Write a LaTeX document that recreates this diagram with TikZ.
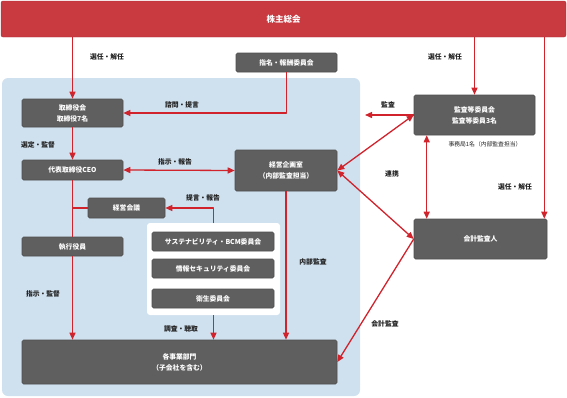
\documentclass[tikz,border=0pt]{standalone}
\usepackage{fontspec}
\setmainfont{Noto Sans CJK JP}
\usepackage{xcolor}
\usepackage{tikz}
\usetikzlibrary{arrows.meta,positioning,calc}
\definecolor{govred}{HTML}{C93940}
\definecolor{linered}{HTML}{D0232C}
\definecolor{boxgray}{HTML}{5F5F5F}
\definecolor{boxline}{HTML}{4E4E4E}
\definecolor{paleblue}{HTML}{CFE0EE}
\definecolor{ink}{HTML}{222222}
\tikzset{
    every picture/.style={line join=round},
    orgbox/.style={draw=boxline,fill=boxgray,line width=0.6pt,rounded corners=1.5pt,
      text=white,font=\fontsize{6.8}{11}\selectfont\bfseries,align=center,inner sep=1pt},
    redline/.style={draw=linered,line width=1.3pt},
    redarrow/.style={redline,-{Triangle[length=7pt,width=6pt]}},
    redboth/.style={redline,{Triangle[length=7pt,width=6pt]}-{Triangle[length=7pt,width=6pt]}},
    flowlabel/.style={text=ink,font=\fontsize{6.8}{8}\selectfont\bfseries,inner sep=1pt}
}
\begin{document}
\begin{tikzpicture}[x=1pt,y=-1pt]
  \useasboundingbox (0,0) rectangle (567,397);
  % executive area
  \fill[paleblue,rounded corners=6pt] (2,78) rectangle (360,396);
  \fill[white,rounded corners=3pt] (147,223) rectangle (280,315);
  \node[draw=govred!85!black,fill=govred,rounded corners=2pt,minimum width=565pt,minimum height=36pt,
    text=white,font=\fontsize{8.5}{10}\selectfont\bfseries] (soukai) at (283.5,19) {株主総会};
  \node[orgbox,minimum width=101pt,minimum height=19pt] (shimei) at (286.5,62.5) {指名・報酬委員会};
  \node[orgbox,minimum width=101pt,minimum height=28pt] (tori) at (72.5,113) {取締役会\\取締役7名};
  \node[orgbox,minimum width=101pt,minimum height=20pt] (ceo) at (72.5,170) {代表取締役CEO};
  \node[orgbox,minimum width=77pt,minimum height=20pt] (kaigi) at (126.5,208) {経営会議};
  \node[orgbox,minimum width=101pt,minimum height=19pt] (shikkou) at (72.5,246.5) {執行役員};
  \node[orgbox,minimum width=102pt,minimum height=41pt] (kikaku) at (286,170.5) {経営企画室\\（内部監査担当）};
  \node[orgbox,minimum width=122pt,minimum height=19pt] (sustain) at (213,241.5) {サステナビリティ・BCM委員会};
  \node[orgbox,minimum width=122pt,minimum height=19pt] (joho) at (213,268.5) {情報セキュリティ委員会};
  \node[orgbox,minimum width=122pt,minimum height=19pt] (eisei) at (213,298.5) {衛生委員会};
  \node[orgbox,minimum width=315pt,minimum height=44pt] (jigyo) at (179.5,362) {各事業部門\\（子会社を含む）};
  \node[orgbox,minimum width=121pt,minimum height=40pt] (kansa) at (474.5,115) {監査等委員会\\監査等委員3名};
  \node[orgbox,minimum width=133pt,minimum height=40pt] (kaikei) at (480.5,239) {会計監査人};
  \coordinate (iinkai) at (213.5,223);
  \coordinate (iinkaib) at (213.5,315);
  \coordinate (kansaout) at (365,115);
  \coordinate (kk) at ([xshift=-3pt]kaikei.north east);
  \coordinate (renkei) at ([xshift=13pt]kansa.south west);

  \draw[redarrow] (soukai.south -| tori.north) -- (tori.north);
  \draw[redarrow] (soukai.south -| kansa.north) -- (kansa.north);
  \draw[redarrow] (soukai.south -| kk) -- (kk);
  \draw[redarrow] (shimei.south) |- (tori.east);
  \draw[redarrow] (tori.south) -- (ceo.north);
  \draw[redboth] (ceo.east) -- (kikaku.west);
  \draw[redline] (ceo.south) -- (shikkou.north);
  \draw[redline] (kaigi.west) -- (kaigi.west -| ceo.south);
  \draw[redarrow] (iinkai) |- (kaigi.east);
  \draw[redarrow] (shikkou.south) -- (shikkou.south |- jigyo.north);
  \draw[redarrow] (iinkaib) -- (iinkaib |- jigyo.north);
  \draw[redarrow] (kikaku.south) -- (kikaku.south |- jigyo.north);
  \draw[redarrow] (kansa.west) -- (kansaout);
  \draw[redboth] (kansa.west) -- (kikaku.east);
  \draw[redboth] (renkei) -- (renkei |- kaikei.north);
  \draw[redboth] (kikaku.east) -- (kaikei.west);
  \draw[redarrow] (kaikei.west) -- (jigyo.east);

  \node[flowlabel] at (107,57) {選任・解任};
  \node[flowlabel] at (445,57) {選任・解任};
  \node[flowlabel] at (515,187) {選任・解任};
  \node[flowlabel] at (182,105) {諮問・提言};
  \node[flowlabel] at (38,145) {選定・監督};
  \node[flowlabel] at (175,162) {指示・報告};
  \node[flowlabel] at (203,198) {提言・報告};
  \node[flowlabel] at (43,294) {指示・監督};
  \node[flowlabel] at (181,329) {調査・聴取};
  \node[flowlabel] at (313,262) {内部監査};
  \node[flowlabel] at (388,105) {監査};
  \node[flowlabel] at (392,174) {連携};
  \node[flowlabel] at (385,324) {会計監査};
  \node[flowlabel,font=\fontsize{5.8}{7}\selectfont] at (485,144) {事務局1名（内部監査担当）};
\end{tikzpicture}
\end{document}
